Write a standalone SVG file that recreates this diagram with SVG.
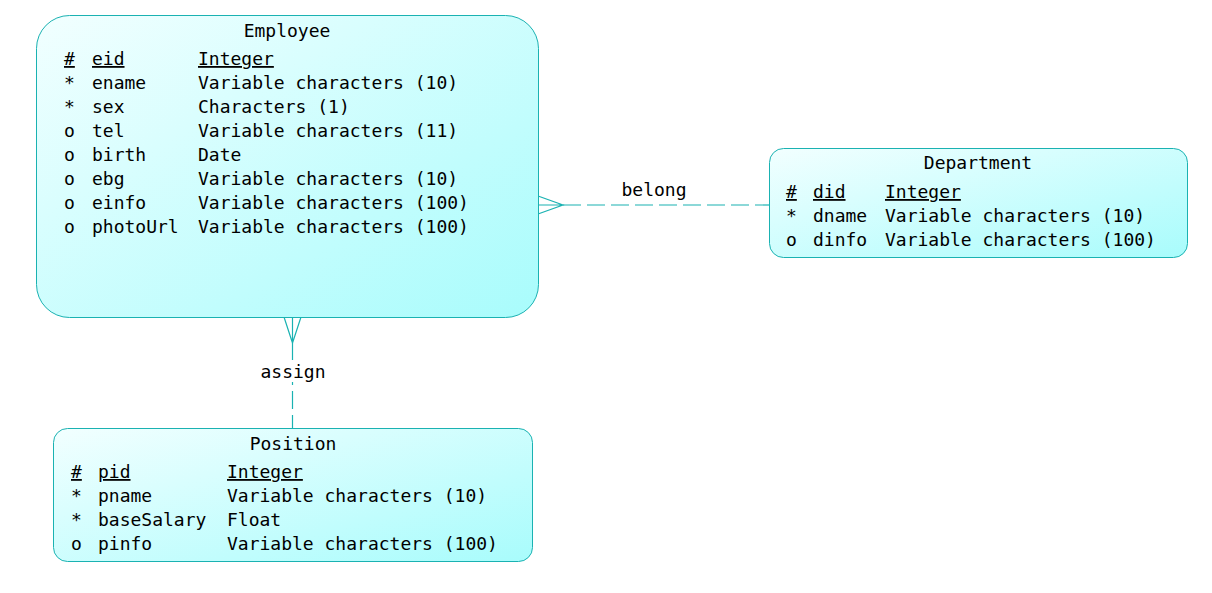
<svg xmlns="http://www.w3.org/2000/svg" width="1212" height="593" viewBox="0 0 1212 593">
<style>
text{font-family:"DejaVu Sans Mono","Liberation Mono",monospace;font-size:18px;fill:#000}
.t{text-anchor:middle}
.u{text-decoration:underline}
.box{fill:url(#g);stroke:#1ab2b2;stroke-width:1}
.ln{stroke:#1ab2b2;stroke-width:1.2;fill:none}
.dash{stroke-dasharray:18 6}
</style>
<defs>
<linearGradient id="g" x1="0" y1="0" x2="1" y2="1">
<stop offset="0" stop-color="#f2ffff"/>
<stop offset="1" stop-color="#a8fcfc"/>
</linearGradient>
</defs>
<rect width="1212" height="593" fill="#fff"/>
<g id="connectors">
<path class="ln" d="M538 196 L563 205 L538 214 M538 205 L563 205"/>
<path class="ln dash" d="M563 205 L769 205"/>
<text x="654" y="196" class="t">belong</text>
<path class="ln" d="M284 317 L292.5 343 L301 317 M292.5 317 L292.5 343"/>
<path class="ln dash" d="M292.5 343 L292.5 428"/>
<rect x="258" y="360" width="70" height="22" fill="#fff"/>
<text x="293" y="378" class="t">assign</text>
</g>
<g id="employee">
<rect class="box" x="36.5" y="15.5" width="502" height="302" rx="33" ry="33"/>
<text x="287" y="37" class="t">Employee</text>
<text x="64" y="65" class="u">#</text><text x="92" y="65" class="u">eid</text><text x="198" y="65" class="u">Integer</text>
<text x="64" y="89">*</text><text x="92" y="89">ename</text><text x="198" y="89">Variable characters (10)</text>
<text x="64" y="113">*</text><text x="92" y="113">sex</text><text x="198" y="113">Characters (1)</text>
<text x="64" y="137">o</text><text x="92" y="137">tel</text><text x="198" y="137">Variable characters (11)</text>
<text x="64" y="161">o</text><text x="92" y="161">birth</text><text x="198" y="161">Date</text>
<text x="64" y="185">o</text><text x="92" y="185">ebg</text><text x="198" y="185">Variable characters (10)</text>
<text x="64" y="209">o</text><text x="92" y="209">einfo</text><text x="198" y="209">Variable characters (100)</text>
<text x="64" y="233">o</text><text x="92" y="233">photoUrl</text><text x="198" y="233">Variable characters (100)</text>
</g>
<g id="department">
<rect class="box" x="769.5" y="148.5" width="418" height="109" rx="14" ry="14"/>
<text x="978" y="169" class="t">Department</text>
<text x="786" y="198" class="u">#</text><text x="813" y="198" class="u">did</text><text x="885" y="198" class="u">Integer</text>
<text x="786" y="222">*</text><text x="813" y="222">dname</text><text x="885" y="222">Variable characters (10)</text>
<text x="786" y="246">o</text><text x="813" y="246">dinfo</text><text x="885" y="246">Variable characters (100)</text>
</g>
<g id="position">
<rect class="box" x="53.5" y="428.5" width="479" height="133" rx="14" ry="14"/>
<text x="293" y="450" class="t">Position</text>
<text x="71" y="478" class="u">#</text><text x="98" y="478" class="u">pid</text><text x="227" y="478" class="u">Integer</text>
<text x="71" y="502">*</text><text x="98" y="502">pname</text><text x="227" y="502">Variable characters (10)</text>
<text x="71" y="526">*</text><text x="98" y="526">baseSalary</text><text x="227" y="526">Float</text>
<text x="71" y="550">o</text><text x="98" y="550">pinfo</text><text x="227" y="550">Variable characters (100)</text>
</g>
</svg>
